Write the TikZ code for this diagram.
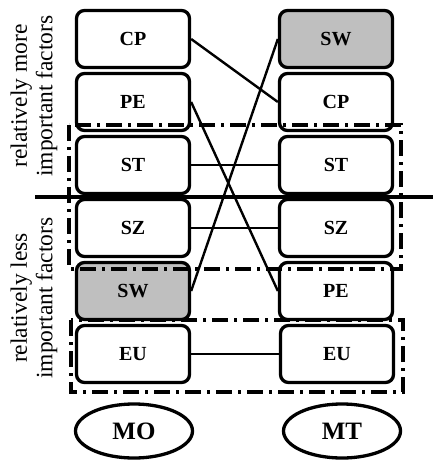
\documentclass[tikz,border=0pt]{standalone}
\usepackage{fontspec}
\setmainfont{Liberation Serif}
\usetikzlibrary{shapes.geometric}
\begin{document}
\begin{tikzpicture}[x=1pt,y=-1pt,
  factor/.style={draw,line width=3.3pt,rounded corners=8pt,minimum width=113pt,minimum height=57pt,inner sep=0pt,font=\fontsize{20}{22}\selectfont\bfseries,fill=white},
  hilite/.style={factor,fill=black!25},
  link/.style={line width=2.4pt},
  cluster/.style={line width=3.2pt,dash pattern=on 16pt off 6pt on 3pt off 6pt},
  divider/.style={line width=4.5pt},
  method/.style={draw,ellipse,line width=3.3pt,minimum width=117pt,minimum height=54pt,inner sep=0pt,font=\fontsize{25}{27}\selectfont\bfseries},
  side/.style={rotate=90,align=center,font=\fontsize{23.5}{25.5}\selectfont}]
\useasboundingbox (0,0) rectangle (433,462);
% left column (MO)
\node[factor] (l1) at (133,39) {CP};
\node[factor] (l2) at (133,102) {PE};
\node[factor] (l3) at (133,165) {ST};
\node[factor] (l4) at (133,228) {SZ};
\node[hilite] (l5) at (133,291) {SW};
\node[factor] (l6) at (133,354) {EU};
% right column (MT)
\node[hilite] (r1) at (336,39) {SW};
\node[factor] (r2) at (336,102) {CP};
\node[factor] (r3) at (336,165) {ST};
\node[factor] (r4) at (336,228) {SZ};
\node[factor] (r5) at (336,291) {PE};
\node[factor] (r6) at (337,354) {EU};
% clusters
\draw[cluster] (69,125) rectangle (401,269);
\draw[cluster] (71,320) rectangle (403,392);
% divider
\coordinate (dl) at (35,197);
\coordinate (dr) at (433,197);
\draw[divider] (dl) -- (dr);
% links
\draw[link] (l1.east) -- (r2.west);
\draw[link] (l2.east) -- (r5.west);
\draw[link] (l3.east) -- (r3.west);
\draw[link] (l4.east) -- (r4.west);
\draw[link] (l5.east) -- (r1.west);
\draw[link] (l6.east) -- (r6.west);
% methods
\node[method] (mo) at (134,431) {MO};
\node[method] (mt) at (342,431) {MT};
% side labels
\node[side] (more) at (34,96) {relatively more\\important factors};
\node[side] (less) at (34,298) {relatively less\\important factors};
\end{tikzpicture}
\end{document}
